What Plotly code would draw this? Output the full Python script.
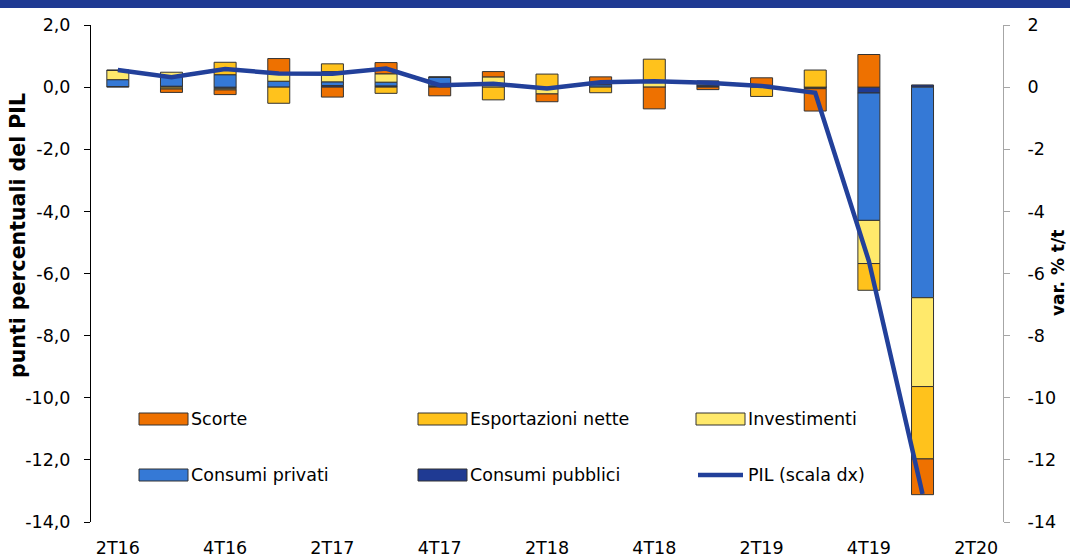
import plotly.graph_objects as go

categories = ["2T16", "3T16", "4T16", "1T17", "2T17", "3T17", "4T17", "1T18", "2T18",
              "3T18", "4T18", "1T19", "2T19", "3T19", "4T19", "1T20", "2T20"]
x_labels = ["2T16", "4T16", "2T17", "4T17", "2T18", "4T18", "2T19", "4T19", "2T20"]

scorte = [0, -0.11, -0.15, 0.46, -0.32, 0.36, -0.28, 0.17, -0.25, 0.25, -0.70, -0.08, 0.24, -0.72, 1.05, -1.15, None]
esportazioni = [0, -0.06, 0.40, -0.52, 0.25, -0.20, 0, -0.41, 0.42, -0.18, 0.75, 0, -0.30, 0.55, -0.86, -2.33, None]
investimenti = [0.30, 0.12, -0.05, 0.27, 0.33, 0.27, 0, 0.33, -0.22, 0, 0.15, 0.12, 0, 0, -1.39, -2.86, None]
consumi_privati = [0.22, 0.33, 0.40, 0.19, 0.12, 0.12, 0.28, 0, 0, 0.08, 0, 0.03, 0.06, 0, -4.10, -6.78, None]
consumi_pubblici = [0.02, 0.03, -0.04, 0, 0.05, 0.04, 0.04, 0, 0, 0, 0, 0.04, 0, -0.05, -0.19, 0.07, None]
pil = [0.55, 0.32, 0.58, 0.44, 0.43, 0.60, 0.06, 0.11, -0.04, 0.16, 0.19, 0.14, 0.04, -0.18, -5.6, -13.1, None]

left_ticks = [2, 0, -2, -4, -6, -8, -10, -12, -14]
left_ticktext = ["2,0", "0,0", "-2,0", "-4,0", "-6,0", "-8,0", "-10,0", "-12,0", "-14,0"]
right_ticktext = ["2", "0", "-2", "-4", "-6", "-8", "-10", "-12", "-14"]

C_SCORTE = "#EE7100"
C_ESPORT = "#FFC21C"
C_INVEST = "#FFE96B"
C_PRIV = "#3579D6"
C_PUBB = "#1F3A93"
C_PIL = "#22409A"
BORDER = "#333333"

FONT = "DejaVu Sans"
FS = 17.5

fig = go.Figure()

# stacking order from zero outward
series = [
    ("Consumi pubblici", consumi_pubblici, C_PUBB),
    ("Consumi privati", consumi_privati, C_PRIV),
    ("Investimenti", investimenti, C_INVEST),
    ("Esportazioni nette", esportazioni, C_ESPORT),
    ("Scorte", scorte, C_SCORTE),
]
for name, vals, col in series:
    fig.add_trace(go.Bar(
        x=categories, y=vals, name=name, showlegend=False,
        marker=dict(color=col, line=dict(color=BORDER, width=1)),
    ))

fig.add_trace(go.Scatter(
    x=categories, y=pil, name="PIL (scala dx)", mode="lines", yaxis="y2",
    showlegend=False, line=dict(color=C_PIL, width=4.5),
))

# plot-area geometry in pixels (for paper-coordinate legend)
L, R, T, B = 91, 1003, 25, 522
PW, PH = R - L, B - T


def px(xp):
    return (xp - L) / PW


def py(yp):
    return (B - yp) / PH


legend_items = [
    ("Scorte", C_SCORTE, 139, 419, "bar"),
    ("Esportazioni nette", C_ESPORT, 418, 419, "bar"),
    ("Investimenti", C_INVEST, 696, 419, "bar"),
    ("Consumi privati", C_PRIV, 139, 475, "bar"),
    ("Consumi pubblici", C_PUBB, 418, 475, "bar"),
    ("PIL (scala dx)", C_PIL, 696, 475, "line"),
]
shapes = []
annotations = []
for label, col, x0, yc, kind in legend_items:
    if kind == "bar":
        shapes.append(dict(type="rect", xref="paper", yref="paper",
                           x0=px(x0), x1=px(x0 + 49), y0=py(yc + 6), y1=py(yc - 6),
                           fillcolor=col, line=dict(color=BORDER, width=1)))
    else:
        shapes.append(dict(type="line", xref="paper", yref="paper",
                           x0=px(x0 + 2), x1=px(x0 + 47), y0=py(yc), y1=py(yc),
                           line=dict(color=col, width=4.5)))
    annotations.append(dict(text=label, xref="paper", yref="paper",
                            x=px(x0 + 50), y=py(yc), xanchor="left", yanchor="middle",
                            showarrow=False, font=dict(family=FONT, size=FS, color="#000")))

# axis titles
annotations.append(dict(text="<b>punti percentuali del PIL</b>", xref="paper", yref="paper",
                        x=px(18), y=py(236), xanchor="center", yanchor="middle", textangle=-90,
                        showarrow=False, font=dict(family=FONT, size=20.5, color="#000")))
annotations.append(dict(text="<b>var. % t/t</b>", xref="paper", yref="paper",
                        x=px(1058), y=py(273), xanchor="center", yanchor="middle", textangle=-90,
                        showarrow=False, font=dict(family=FONT, size=17, color="#000")))

# header band
shapes.append(dict(type="rect", xref="paper", yref="paper", x0=-L / PW, x1=(1070 - L) / PW,
                   y0=py(8), y1=py(-2), fillcolor="#1F3A93", line=dict(width=0), layer="above"))

fig.update_layout(
    width=1070, height=556,
    margin=dict(l=L, r=1070 - R, t=T, b=556 - B, autoexpand=False),
    paper_bgcolor="white", plot_bgcolor="white",
    barmode="relative", bargap=0.59,
    showlegend=False,
    font=dict(family=FONT, size=FS, color="#000"),
    shapes=shapes, annotations=annotations,
    xaxis=dict(
        type="category", categoryorder="array", categoryarray=categories,
        range=[-0.5, 16.5], showline=False, ticks="", showgrid=False,
        tickmode="array", tickvals=x_labels, ticktext=x_labels, automargin=False,
        tickfont=dict(family=FONT, size=FS), zeroline=False, ticklabelstandoff=13,
    ),
    xaxis2=dict(
        overlaying="x", anchor="free", position=14 / 16, range=[-0.5, 16.5],
        showline=True, linecolor="#000", linewidth=1, automargin=False,
        tickmode="array", tickvals=[i + 0.5 for i in range(16)],
        ticks="outside", ticklen=6, tickcolor="#000", showticklabels=False,
        showgrid=False, zeroline=False, fixedrange=True,
    ),
    yaxis=dict(
        range=[-14, 2], tickmode="array", tickvals=left_ticks, ticktext=left_ticktext,
        showline=True, linecolor="#000", linewidth=1, ticks="outside", ticklen=6,
        tickcolor="#000", showgrid=False, zeroline=False, automargin=False,
        tickfont=dict(family=FONT, size=FS), ticklabelstandoff=10,
    ),
    yaxis2=dict(
        overlaying="y", side="right", range=[-14, 2], tickmode="array",
        tickvals=left_ticks, ticktext=right_ticktext, automargin=False,
        showline=True, linecolor="#A6A6A6", linewidth=1, ticks="outside", ticklen=6,
        tickcolor="#A6A6A6", showgrid=False, zeroline=False,
        tickfont=dict(family=FONT, size=FS), ticklabelstandoff=14,
    ),
)

fig.write_html("out.html", config={"displayModeBar": False},
               post_script="document.body.style.margin='0';")
